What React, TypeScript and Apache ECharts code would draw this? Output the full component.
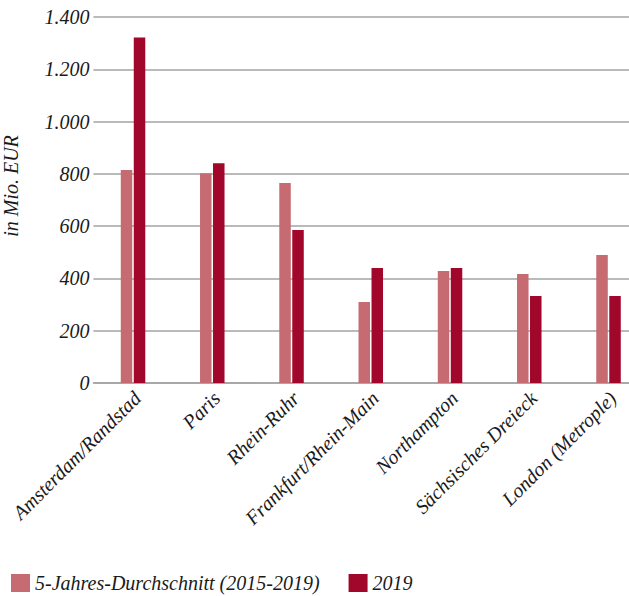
import React, { useEffect, useRef } from "react";
import * as echarts from "echarts";

const categories = [
  "Amsterdam/Randstad",
  "Paris",
  "Rhein-Ruhr",
  "Frankfurt/Rhein-Main",
  "Northampton",
  "Sächsisches Dreieck",
  "London (Metrople)",
];
const seriesNames = ["5-Jahres-Durchschnitt (2015-2019)", "2019"];
const avgValues = [815, 802, 765, 310, 428, 417, 490];
const values2019 = [1322, 841, 585, 440, 440, 333, 333];
const yTicks = { min: 0, max: 1400, interval: 200 };
const yAxisTitle = "in Mio. EUR";

const FONT = "'Liberation Serif', 'DejaVu Serif', serif";

export default function App() {
  const ref = useRef<HTMLDivElement>(null);
  useEffect(() => {
    if (!ref.current) return;
    const chart = echarts.init(ref.current, null, { renderer: "svg" });
    const gridLine = { color: "#a3a3a3", width: 1.5 };
    chart.setOption({
      animation: false,
      backgroundColor: "#ffffff",
      grid: { left: 93.4, width: 554.75, top: 17, height: 366, outerBoundsMode: "none", containLabel: false },
      legend: {
        data: seriesNames,
        left: 6,
        top: 568,
        icon: "rect",
        itemWidth: 19,
        itemHeight: 18,
        itemGap: 29,
        textStyle: { fontFamily: FONT, fontStyle: "italic", fontSize: 20, color: "#1a1a1a" },
      },
      xAxis: {
        type: "category",
        data: categories,
        axisLine: { show: true, lineStyle: gridLine },
        axisTick: { show: false },
        axisLabel: {
          interval: 0,
          rotate: 45,
          margin: 16,
          fontFamily: FONT,
          fontStyle: "italic",
          fontSize: 20,
          color: "#1a1a1a",
          padding: [0, -6, 0, 0],
        },
      },
      yAxis: {
        type: "value",
        min: yTicks.min,
        max: yTicks.max,
        interval: yTicks.interval,
        name: yAxisTitle,
        nameLocation: "middle",
        nameRotate: 90,
        nameGap: 72,
        nameTextStyle: {
          fontFamily: FONT,
          fontStyle: "italic",
          fontSize: 20,
          color: "#1a1a1a",
          padding: [0, 0, 0, 28],
        },
        axisLine: { show: false },
        axisTick: { show: false },
        splitLine: { show: true, lineStyle: gridLine },
        axisLabel: {
          margin: 4,
          fontFamily: FONT,
          fontStyle: "italic",
          fontSize: 20,
          color: "#1a1a1a",
          formatter: (v: number) => v.toLocaleString("de-DE"),
        },
      },
      series: [
        {
          name: seriesNames[0],
          type: "bar",
          data: avgValues,
          barWidth: 11.5,
          barGap: "13%",
          itemStyle: { color: "#c56b71" },
        },
        {
          name: seriesNames[1],
          type: "bar",
          data: values2019,
          barWidth: 11.5,
          barGap: "13%",
          itemStyle: { color: "#a1072a" },
        },
      ],
    });
    return () => chart.dispose();
  }, []);
  return (
    <div
      ref={ref}
      style={{ position: "fixed", left: 0, top: 0, width: 629, height: 596 }}
    />
  );
}
